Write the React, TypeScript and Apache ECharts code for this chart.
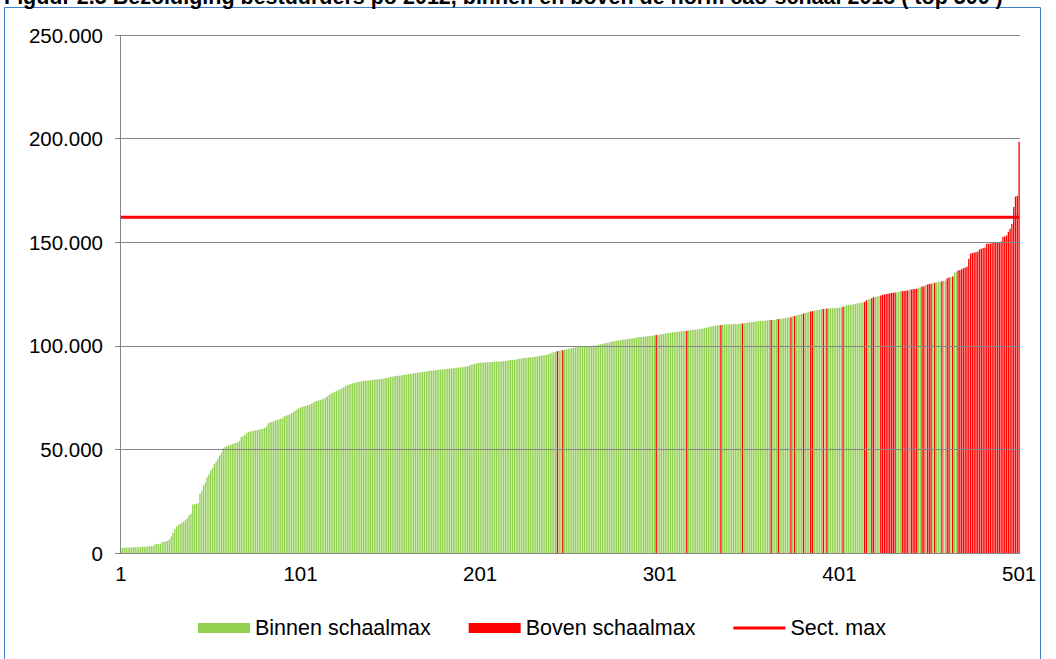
import React, { useEffect, useRef } from "react";
import * as echarts from "echarts";

const TITLE =
  "Figuur 2.5 Bezoldiging bestuurders po 2012, binnen en boven de norm cao-schaal 2013 ( top 500 )";

// Bezoldiging per bestuurder, gesorteerd (x 1000 euro), posities 1..501
const VALUES_K: number[] = [
  2.4, 2.5, 2.5, 2.6, 2.6, 2.7, 2.7, 2.8, 2.8, 2.8, 2.9, 2.9, 3.0, 3.0, 3.0,
  3.1, 3.2, 3.3, 3.4, 4.2, 4.3, 4.4, 4.5, 5.2, 5.4, 5.6, 5.8,
  6.5, 8.0, 9.8, 11.5, 12.8, 13.4, 14.0, 14.6, 15.2, 16.0, 16.8, 18.2, 19.0,
  23.4, 23.6, 23.8, 24.0, 28.5, 30.0, 32.5, 34.0, 36.5, 38.0, 39.8, 41.0,
  43.0, 44.0, 45.5, 47.0, 48.5, 50.5, 51.2,
  51.6, 51.9, 52.2, 52.5, 52.8, 53.1, 53.4, 54.0, 56.0, 56.4, 57.0, 57.8,
  58.4, 58.6, 58.8, 59.0, 59.2, 59.4, 59.6, 59.8, 60.0, 60.3, 61.0,
  62.5, 63.0, 63.3, 63.6, 63.9, 64.2, 64.5, 64.8, 65.0,
  66.0, 66.3, 66.6, 67.0, 67.4, 68.0, 68.6, 69.2, 69.8, 70.2,
  70.5, 70.8, 71.0, 71.3, 71.6, 72.0, 72.5,
  73.0, 73.3, 73.6, 73.9, 74.2, 74.5, 75.0, 75.6, 76.2,
  77.0, 77.4, 77.8, 78.2, 78.6, 79.0, 79.5, 80.0, 80.5, 81.0,
  81.3, 81.6, 81.9, 82.1, 82.3, 82.5, 82.7, 82.9,
  83.0, 83.1, 83.2, 83.3, 83.4, 83.5, 83.6, 83.7, 83.8, 83.9, 84.0, 84.1,
  84.3, 84.5, 84.7, 84.9, 85.1, 85.3, 85.4, 85.5, 85.6, 85.7,
  85.9, 86.0, 86.2, 86.3, 86.5, 86.6, 86.8, 86.9, 87.0, 87.1, 87.3, 87.4, 87.5, 87.6, 87.8,
  87.9, 88.0, 88.1, 88.2, 88.3, 88.4, 88.5, 88.6, 88.7, 88.8, 88.9, 89.0, 89.1,
  89.2, 89.3, 89.4, 89.5, 89.6, 89.7, 89.9, 90.0, 90.2,
  90.5, 90.8, 91.0, 91.3, 91.5, 91.7,
  91.8, 91.9, 92.0, 92.0, 92.1, 92.1, 92.2, 92.2, 92.3, 92.3, 92.4, 92.4, 92.5, 92.6,
  92.7, 92.8, 93.0, 93.1, 93.2, 93.3, 93.4, 93.6, 93.7, 93.9,
  94.0, 94.1, 94.2, 94.3, 94.4, 94.5, 94.6, 94.8, 94.9,
  95.1, 95.3, 95.4, 95.6, 95.7, 95.9,
  96.3, 96.6, 97.0, 97.2, 97.4, 97.6, 97.8, 97.9, 98.1,
  98.3, 98.5, 98.7, 98.9, 99.1,
  99.2, 99.3, 99.4, 99.5, 99.5, 99.6, 99.7, 99.8, 99.9, 100.0, 100.0, 100.1, 100.2,
  100.5, 100.7, 100.9, 101.1, 101.3, 101.5, 101.7, 101.9, 102.1, 102.3, 102.4, 102.6,
  102.7, 102.9, 103.0, 103.1, 103.3, 103.4, 103.5, 103.7, 103.8, 103.9, 104.1, 104.2,
  104.3, 104.4, 104.5, 104.6, 104.7, 104.8, 104.9, 105.0, 105.2, 105.3,
  105.4, 105.6, 105.7, 105.9, 106.0, 106.2, 106.3, 106.5, 106.6,
  106.7, 106.8, 106.9, 107.0, 107.1, 107.2, 107.3, 107.4, 107.5, 107.6, 107.7, 107.8, 107.9, 108.0, 108.2,
  108.4, 108.6, 108.8, 109.0, 109.2, 109.4, 109.5, 109.7, 109.8, 109.9, 110.0, 110.1, 110.3,
  110.3, 110.4, 110.4, 110.4, 110.5, 110.5, 110.5, 110.6, 110.6,
  110.8, 110.9, 111.0, 111.2, 111.3, 111.4, 111.5, 111.7, 111.8,
  111.9, 112.0, 112.1, 112.1, 112.2, 112.3, 112.4, 112.5, 112.5, 112.6,
  112.8, 112.9, 113.0, 113.1, 113.3, 113.4, 113.5, 113.6, 113.8,
  114.1, 114.4, 114.7, 114.9, 115.2, 115.4,
  115.6, 115.9, 116.1, 116.4, 116.6,
  116.8, 116.9, 117.1, 117.3, 117.4, 117.6, 117.8, 117.9,
  118.0, 118.0, 118.1, 118.1, 118.2, 118.2, 118.3, 118.4, 118.5,
  118.8, 119.2, 119.5, 119.7, 119.8, 119.9, 120.0, 120.1,
  120.5, 120.7, 120.9, 121.0, 121.2,
  122.0, 122.4, 122.7, 122.9,
  123.4, 123.6, 123.8, 124.0, 124.3,
  124.6, 124.8, 125.0, 125.1,
  125.4, 125.5, 125.6, 125.7, 125.8,
  126.1, 126.3, 126.4, 126.5, 126.6, 126.7,
  127.0, 127.2, 127.3, 127.4, 127.5,
  128.0, 128.3, 128.6, 128.8,
  129.4, 129.6, 129.8, 129.9,
  130.2, 130.4, 130.6, 130.8, 131.0, 131.2, 131.4, 131.5,
  132.6, 133.0, 133.2, 133.4,
  135.3, 135.6,
  136.3, 136.6, 137.0, 137.4, 137.8, 138.2,
  142.0,
  144.6, 144.8, 145.0, 145.2, 145.5,
  146.6, 146.8, 147.2, 147.5,
  149.2, 149.3, 149.4, 149.5, 149.6, 149.8, 149.9, 150.1, 150.3,
  152.5, 152.8, 153.2,
  155.0, 156.5,
  158.8, 167.0, 172.0, 172.4, 198.5,
];

// Posities (1-based) boven de schaalmax
const ABOVE_MAX_POSITIONS: number[] = [
  244, 247, 299, 316, 335, 347, 363, 367, 374, 376, 381, 385, 386, 392, 394,
  403, 415, 416, 419, 420,
  424, 425, 426, 427, 428, 429, 430, 431, 432,
  436, 437, 438, 439, 441, 442, 443, 444, 447, 448, 450, 451, 452, 454,
  458, 461, 462, 464,
  467, 468, 469, 470, 471, 472, 473, 474, 475, 476, 477, 478, 479, 480,
  481, 482, 483, 484, 485, 486, 487, 488, 489, 490, 491, 492, 493, 494,
  495, 496, 497, 498, 499, 500, 501,
];

const SECT_MAX = 162000;
const X_TICK_LABELS = ["1", "101", "201", "301", "401", "501"];
const Y_TICKS = [0, 50000, 100000, 150000, 200000, 250000];

const FONT = 'Arial, "Liberation Sans", sans-serif';
const FS = 20.5;

function fmt(v: number): string {
  return String(v).replace(/\B(?=(\d{3})+(?!\d))/g, ".");
}

export default function App() {
  const ref = useRef<HTMLDivElement>(null);

  useEffect(() => {
    if (!ref.current) return;
    const chart = echarts.init(ref.current, undefined, { renderer: "svg" });

    const categories = VALUES_K.map((_, i) => String(i + 1));
    const aboveSet = new Set(ABOVE_MAX_POSITIONS);
    const binnen = VALUES_K.map((v, i) =>
      aboveSet.has(i + 1) ? "-" : Math.round(v * 1000)
    );
    const boven = VALUES_K.map((v, i) =>
      aboveSet.has(i + 1) ? Math.round(v * 1000) : "-"
    );
    const sect = VALUES_K.map(() => SECT_MAX);

    chart.setOption({
      animation: false,
      backgroundColor: "#ffffff",
      textStyle: { fontFamily: FONT },
      graphic: [
        {
          type: "rect",
          shape: { x: 4.5, y: 7.5, width: 1036, height: 700 },
          style: { fill: "none", stroke: "#3f7fcf", lineWidth: 1 },
          silent: true,
        },
        {
          type: "text",
          x: 4,
          y: 8,
          style: {
            text: TITLE,
            font: `bold 21.5px ${FONT}`,
            fill: "#000",
            verticalAlign: "bottom",
          },
          silent: true,
        },
      ],
      grid: { left: 120, right: 36, top: 35, bottom: 106, containLabel: false },
      legend: {
        left: 193,
        top: 612,
        itemWidth: 52,
        itemHeight: 10,
        itemGap: 38,
        textStyle: { fontSize: 21.5, color: "#000", fontFamily: FONT },
        data: [
          { name: "Binnen schaalmax", icon: "rect" },
          { name: "Boven schaalmax", icon: "rect" },
          { name: "Sect. max", icon: "path://M0,0 L52,0 L52,3 L0,3 Z" },
        ],
      },
      xAxis: {
        type: "category",
        data: categories,
        boundaryGap: true,
        z: 3,
        axisLine: { lineStyle: { color: "#868686", width: 1 } },
        axisTick: {
          interval: 99,
          alignWithLabel: true,
          length: 5,
          lineStyle: { color: "#868686" },
        },
        axisLabel: {
          interval: 99,
          margin: 10,
          fontSize: FS,
          color: "#000",
          fontFamily: FONT,
          formatter: (v: string) => (X_TICK_LABELS.includes(v) ? v : ""),
        },
      },
      yAxis: {
        type: "value",
        min: Y_TICKS[0],
        max: Y_TICKS[Y_TICKS.length - 1],
        interval: Y_TICKS[1] - Y_TICKS[0],
        z: 3,
        axisLine: { show: true, lineStyle: { color: "#868686", width: 1 } },
        axisTick: { show: true, length: 5, lineStyle: { color: "#868686" } },
        splitLine: { show: true, lineStyle: { color: "#868686", width: 1 } },
        axisLabel: {
          margin: 17,
          fontSize: FS,
          color: "#000",
          fontFamily: FONT,
          formatter: (v: number) => fmt(v),
        },
      },
      series: [
        {
          name: "Binnen schaalmax",
          type: "bar",
          stack: "s",
          data: binnen,
          barCategoryGap: "25%",
          itemStyle: { color: "#92D050" },
          emphasis: { disabled: true },
        },
        {
          name: "Boven schaalmax",
          type: "bar",
          stack: "s",
          data: boven,
          barCategoryGap: "25%",
          itemStyle: { color: "#FF0000" },
          emphasis: { disabled: true },
        },
        {
          name: "Sect. max",
          type: "line",
          data: sect,
          symbol: "none",
          showSymbol: false,
          z: 4,
          lineStyle: { color: "#FF0000", width: 3 },
          itemStyle: { color: "#FF0000" },
          emphasis: { disabled: true },
        },
      ],
    });

    return () => chart.dispose();
  }, []);

  return (
    <div
      ref={ref}
      style={{ position: "absolute", left: 0, top: 0, width: 1056, height: 659 }}
    />
  );
}
